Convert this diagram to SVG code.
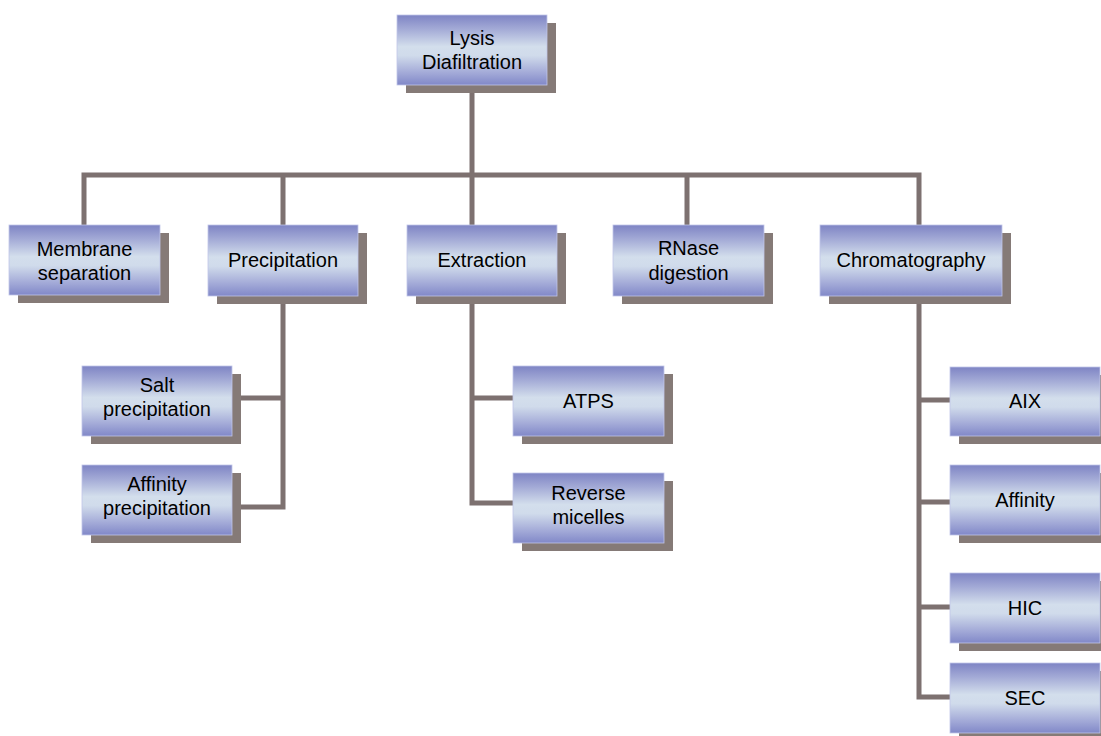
<svg xmlns="http://www.w3.org/2000/svg" width="1101" height="736" viewBox="0 0 1101 736">
<defs>
<linearGradient id="g" x1="0" y1="0" x2="0" y2="1">
<stop offset="0" stop-color="#7E84C4"/>
<stop offset="0.2" stop-color="#A3AAD6"/>
<stop offset="0.45" stop-color="#D3DEEC"/>
<stop offset="0.58" stop-color="#D0DBEB"/>
<stop offset="0.82" stop-color="#A4ABD8"/>
<stop offset="1" stop-color="#8188C8"/>
</linearGradient>
</defs>
<style>
.sh{fill:#857A77}
.bx{fill:url(#g);stroke:#C0C6E8;stroke-width:0.8}
.t{font-family:"Liberation Sans",Arial,sans-serif;font-size:20px;fill:#000;text-anchor:middle}
.c{fill:none;stroke:#7D7170;stroke-width:5;stroke-linecap:square;stroke-linejoin:miter}
</style>
<rect width="1101" height="736" fill="#FFFFFF"/>
<g id="connectors">
<path class="c" d="M472 84V175M84 225V175H919V225M283 175V225M472 175V225M687 175V225"/>
<path class="c" d="M283 296V507H232M232 398H283"/>
<path class="c" d="M472 296V503H513M472 398H513"/>
<path class="c" d="M919 296V697H950M919 400H950M919 502H950M919 607H950"/>
</g>
<g id="lysis"><rect class="sh" x="406" y="23" width="150" height="70"/><rect class="bx" x="397" y="15" width="150" height="70"/><text class="t" x="472" y="45">Lysis</text><text class="t" x="472" y="69">Diafiltration</text></g>
<g id="membrane"><rect class="sh" x="18" y="233" width="151" height="70"/><rect class="bx" x="9" y="225" width="151" height="70"/><text class="t" x="84.5" y="256">Membrane</text><text class="t" x="84.5" y="280">separation</text></g>
<g id="precipitation"><rect class="sh" x="217" y="233" width="150" height="71"/><rect class="bx" x="208" y="225" width="150" height="71"/><text class="t" x="283" y="267">Precipitation</text></g>
<g id="extraction"><rect class="sh" x="416" y="233" width="150" height="71"/><rect class="bx" x="407" y="225" width="150" height="71"/><text class="t" x="482" y="267">Extraction</text></g>
<g id="rnase"><rect class="sh" x="622" y="233" width="151" height="71"/><rect class="bx" x="613" y="225" width="151" height="71"/><text class="t" x="688.5" y="255">RNase</text><text class="t" x="688.5" y="280">digestion</text></g>
<g id="chromatography"><rect class="sh" x="829" y="233" width="182" height="71"/><rect class="bx" x="820" y="225" width="182" height="71"/><text class="t" x="911" y="267">Chromatography</text></g>
<g id="salt"><rect class="sh" x="91" y="374" width="150" height="70"/><rect class="bx" x="82" y="366" width="150" height="70"/><text class="t" x="157" y="392">Salt</text><text class="t" x="157" y="416">precipitation</text></g>
<g id="affinityprecipitation"><rect class="sh" x="91" y="473" width="150" height="70"/><rect class="bx" x="82" y="465" width="150" height="70"/><text class="t" x="157" y="491">Affinity</text><text class="t" x="157" y="515">precipitation</text></g>
<g id="atps"><rect class="sh" x="522" y="374" width="151" height="70"/><rect class="bx" x="513" y="366" width="151" height="70"/><text class="t" x="588.5" y="408">ATPS</text></g>
<g id="reversemicelles"><rect class="sh" x="522" y="481" width="151" height="70"/><rect class="bx" x="513" y="473" width="151" height="70"/><text class="t" x="588.5" y="500">Reverse</text><text class="t" x="588.5" y="524">micelles</text></g>
<g id="aix"><rect class="sh" x="959" y="375" width="150" height="69"/><rect class="bx" x="950" y="367" width="150" height="69"/><text class="t" x="1025" y="408">AIX</text></g>
<g id="affinity"><rect class="sh" x="959" y="473" width="150" height="70"/><rect class="bx" x="950" y="465" width="150" height="70"/><text class="t" x="1025" y="507">Affinity</text></g>
<g id="hic"><rect class="sh" x="959" y="581" width="150" height="70"/><rect class="bx" x="950" y="573" width="150" height="70"/><text class="t" x="1025" y="615">HIC</text></g>
<g id="sec"><rect class="sh" x="959" y="671" width="150" height="70"/><rect class="bx" x="950" y="663" width="150" height="70"/><text class="t" x="1025" y="705">SEC</text></g>
</svg>
